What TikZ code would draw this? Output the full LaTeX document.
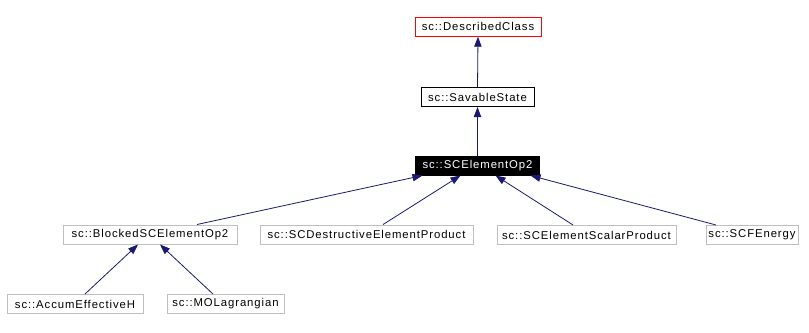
\documentclass[tikz,border=0pt]{standalone}
\usepackage{fontspec}
\setmainfont{Liberation Sans}[LetterSpace=8]
\usetikzlibrary{arrows.meta}
\definecolor{edgeblue}{RGB}{25,25,112}
\definecolor{boxgray}{RGB}{191,191,191}
\begin{document}
\begin{tikzpicture}[x=0.75pt,y=-0.75pt,
  cls/.style={draw=boxgray,line width=0.75pt,rectangle,inner sep=0pt,minimum height=14.25pt,font=\fontsize{8.5pt}{10pt}\selectfont},
  redcls/.style={cls,draw=red},
  blkcls/.style={cls,draw=black},
  curcls/.style={cls,draw=black,fill=black,text=white},
  inh/.style={draw=edgeblue,line width=0.6pt,{Triangle[length=7.5pt,width=5.5pt]}-}
]
\useasboundingbox (0,0) rectangle (809,332);
\node[redcls,minimum width=94.5pt] (dc) at (478,26.7) {sc::DescribedClass};
\node[blkcls,minimum width=84.75pt] (ss) at (477.5,97) {sc::SavableState};
\node[curcls,minimum width=93pt] (op2) at (477.5,165.5) {sc::SCElementOp2};
\node[cls,minimum width=130.5pt] (blocked) at (150,234.5) {sc::BlockedSCElementOp2};
\node[cls,minimum width=159.75pt] (destr) at (366.5,234.5) {sc::SCDestructiveElementProduct};
\node[cls,minimum width=134.25pt] (scalar) at (586.5,235) {sc::SCElementScalarProduct};
\node[cls,minimum width=69pt] (scf) at (752,235) {sc::SCFEnergy};
\node[cls,minimum width=102pt] (accum) at (75,304) {sc::AccumEffectiveH};
\node[cls,minimum width=87.75pt] (mol) at (225.5,304) {sc::MOLagrangian};

\draw[inh] (dc.south) -- (ss.north);
\draw[inh] (ss.south) -- (op2.north);
\draw[inh] ([xshift=-41.25pt]op2.south) -- ([xshift=35.25pt]blocked.north);
\draw[inh] ([xshift=-12.75pt]op2.south) -- ([xshift=12.4pt]destr.north);
\draw[inh] ([xshift=13.5pt]op2.south) -- ([xshift=-10.1pt]scalar.north);
\draw[inh] ([xshift=39.75pt]op2.south) -- ([xshift=-27pt]scf.north);
\draw[inh] ([xshift=-9pt]blocked.south) -- ([xshift=7.5pt]accum.north);
\draw[inh] ([xshift=7.5pt]blocked.south) -- ([xshift=-9.4pt]mol.north);
\end{tikzpicture}
\end{document}
